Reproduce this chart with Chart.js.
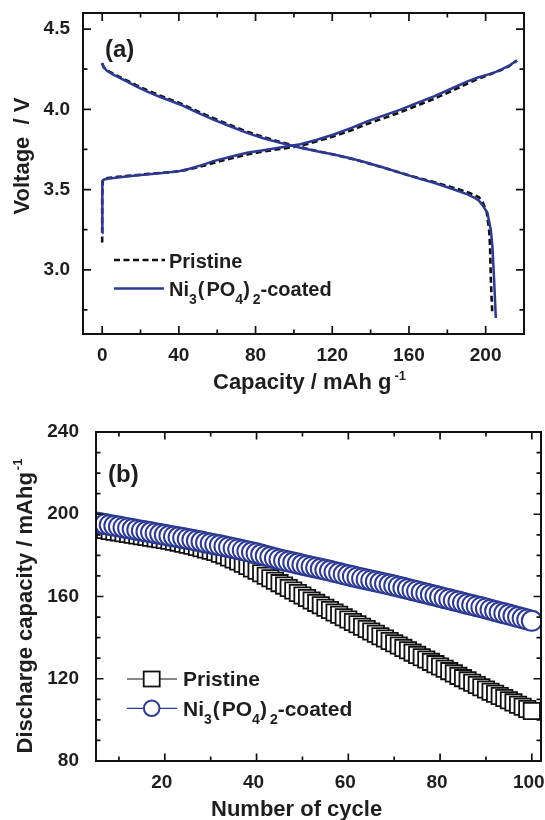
<!DOCTYPE html>
<html><head><meta charset="utf-8">
<script src="https://cdn.jsdelivr.net/npm/chart.js@4/dist/chart.umd.min.js"></script>
<style>
html,body{margin:0;padding:0;background:#fff;}
#wrap{position:relative;width:545px;height:820px;overflow:hidden;background:#fff;}
canvas{position:absolute;left:0;}
#ca{top:0;width:545px;height:400px;}
#cb{top:400px;width:565px;height:420px;}
</style></head><body>
<div id="wrap"><canvas id="ca" width="545" height="400"></canvas><canvas id="cb" width="565" height="420"></canvas></div>
<script>
// ===== Panel (a): charge / discharge voltage profiles (capacity mAh/g, voltage V) =====
const coatedChargeQ   = [0,0,0,0.3,1,3,8,15,23,30,35,40.6,45,49.3,54,58,67,75.5,84,92.9,103.4,112,120.8,130,138.2,147,155.6,164,173,182,190.5,196,201,205,208,212,216.3];
const coatedChargeV   = [3.23,3.35,3.45,3.55,3.563,3.567,3.575,3.585,3.594,3.602,3.607,3.616,3.628,3.643,3.66,3.677,3.704,3.729,3.745,3.762,3.782,3.81,3.843,3.884,3.925,3.962,3.998,4.038,4.081,4.128,4.174,4.198,4.216,4.232,4.247,4.27,4.305];
const coatedDischQ    = [0,0.8,2.5,5.8,12,18,23.2,30,40.6,50,58,67,75.5,84,92.9,103.4,112,120.8,130,138.2,147,155.6,164,173,183.5,190.5,194,196.5,198.5,200.9,202.7,203.5,204.4,205.3];
const coatedDischV    = [4.289,4.262,4.24,4.216,4.178,4.142,4.112,4.078,4.03,3.978,3.936,3.893,3.853,3.82,3.791,3.76,3.739,3.718,3.693,3.667,3.636,3.604,3.573,3.542,3.5,3.47,3.45,3.43,3.4,3.356,3.25,3.148,2.94,2.70];
const pristineChargeQ = [0,0,0,0.3,1,3,8,15,23,30,35,40.6,45,49.3,54,58,67,75.5,84,92.9,103.4,112,120.8,130,138.2,147,155.6,164,173,182,190.5,196,201,205,208,212,216.3];
const pristineChargeV = [3.17,3.3,3.45,3.555,3.568,3.572,3.579,3.587,3.596,3.603,3.607,3.615,3.625,3.637,3.652,3.666,3.693,3.718,3.737,3.753,3.772,3.801,3.832,3.869,3.909,3.945,3.982,4.022,4.065,4.113,4.16,4.19,4.212,4.23,4.245,4.268,4.303];
const pristineDischQ  = [0,0.8,2.5,5.8,12,18,23.2,30,40.6,50,58,67,75.5,84,92.9,103.4,112,120.8,130,138.2,147,155.6,164,173,183.5,190.5,194,196.5,198.5,200.6,201.8,202.3,202.7,203.5];
const pristineDischV  = [4.285,4.263,4.243,4.221,4.184,4.149,4.12,4.086,4.038,3.986,3.945,3.901,3.861,3.827,3.796,3.763,3.74,3.718,3.692,3.666,3.635,3.604,3.575,3.547,3.51,3.484,3.467,3.452,3.42,3.356,3.25,3.148,2.94,2.72];
const xTicksA = [0,40,80,120,160,200];
const xMinorA = [20,60,100,140,180];
const yTicksA = [3.0,3.5,4.0,4.5];
const yMinorA = [2.75,3.25,3.75,4.25];

// ===== Panel (b): discharge capacity vs cycle number =====
const firstCycle = 5, lastCycle = 100;
const cycles = [];
for (let c = firstCycle; c <= lastCycle; c++) cycles.push(c);
const pristineCap = [193.0,192.6,192.3,191.9,191.5,191.2,190.8,190.4,190.0,189.7,
  189.3,188.9,188.6,188.2,187.8,187.5,187.1,186.6,186.2,185.7,
  185.2,184.7,184.1,183.5,182.9,182.3,181.6,180.8,180.0,179.0,
  178.0,177.0,175.9,174.8,173.6,172.5,171.3,170.1,168.9,167.7,
  166.5,165.3,164.1,162.9,161.7,160.5,159.3,158.1,156.9,155.7,
  154.5,153.4,152.2,151.1,149.9,148.8,147.6,146.5,145.3,144.2,
  143.0,141.9,140.7,139.6,138.4,137.3,136.2,135.0,133.9,132.7,
  131.6,130.5,129.4,128.2,127.1,126.0,124.9,123.7,122.6,121.4,
  120.3,119.2,118.1,117.0,115.9,114.8,113.7,112.7,111.6,110.6,
  109.5,108.5,107.4,106.4,105.3,104.3];
const coatedCap = [196.0,195.6,195.2,194.8,194.4,194.0,193.6,193.2,192.8,192.4,
  192.0,191.6,191.2,190.8,190.4,190.0,189.6,189.2,188.8,188.4,
  188.0,187.6,187.1,186.7,186.2,185.8,185.3,184.9,184.4,184.0,
  183.5,183.0,182.5,182.0,181.5,181.0,180.4,179.8,179.2,178.6,
  178.0,177.5,177.0,176.5,176.0,175.5,175.0,174.5,174.0,173.5,
  173.0,172.5,171.9,171.4,170.8,170.3,169.8,169.3,168.8,168.3,
  167.8,167.3,166.8,166.3,165.8,165.3,164.8,164.2,163.7,163.1,
  162.6,162.0,161.5,160.9,160.4,159.8,159.2,158.7,158.1,157.6,
  157.0,156.4,155.9,155.3,154.8,154.2,153.6,153.0,152.4,151.8,
  151.2,150.6,150.0,149.4,148.8,148.2];
const xTicksB = [20,40,60,80,100];
const xMinorB = [10,30,50,70,90];
const yTicksB = [80,120,160,200,240];
const yMinorB = [90,100,110,130,140,150,170,180,190,210,220,230];

// ===== styling =====
const FONT = "'Liberation Sans', Arial, Helvetica, sans-serif";
const INK = '#1e1e1e';
const BLUE = '#2c3a94';

function pts(xs, ys) { return xs.map((x, i) => ({x: x, y: ys[i]})); }
function fixedTicks(vals) { return s => { s.ticks = vals.map(v => ({value: v})); }; }
const tickFont = {family: FONT, size: 19, weight: 'bold'};

function xScale(min, max, vals, h, pad, fmt, shift) {
  return {type: 'linear', position: 'bottom', min: min, max: max,
    afterBuildTicks: fixedTicks(vals),
    afterFit: s => { s.height = h; s.paddingLeft = 0; s.paddingRight = 0; },
    grid: {display: false, drawTicks: false}, border: {display: false},
    ticks: {padding: pad, labelOffset: shift || 0, autoSkip: false, maxRotation: 0, minRotation: 0, color: INK, font: tickFont, callback: fmt}};
}
function yScale(min, max, vals, w, pad, fmt) {
  return {type: 'linear', position: 'left', min: min, max: max,
    afterBuildTicks: fixedTicks(vals),
    afterFit: s => { s.width = w; s.paddingTop = 0; s.paddingBottom = 0; },
    grid: {display: false, drawTicks: false}, border: {display: false},
    ticks: {padding: pad, autoSkip: false, color: INK, font: tickFont, callback: fmt}};
}

function richWidth(ctx, parts) {
  let w = 0;
  for (const p of parts) { ctx.font = 'bold ' + p.s + 'px ' + FONT; w += (p.gap || 0) + ctx.measureText(p.t).width; }
  return w;
}
function drawRich(ctx, parts, x, y, rot, align) {
  ctx.save();
  ctx.translate(x, y);
  if (rot) ctx.rotate(rot);
  let cx = align === 'center' ? -richWidth(ctx, parts) / 2 : 0;
  ctx.fillStyle = INK; ctx.textAlign = 'left'; ctx.textBaseline = 'alphabetic';
  for (const p of parts) {
    cx += p.gap || 0;
    ctx.font = 'bold ' + p.s + 'px ' + FONT;
    ctx.fillText(p.t, cx, p.dy || 0);
    cx += ctx.measureText(p.t).width;
  }
  ctx.restore();
}

const framePlugin = {
  id: 'frame',
  afterDatasetsDraw(chart) {
    const o = chart.options.plugins.frame;
    const ctx = chart.ctx, a = chart.chartArea, xs = chart.scales.x, ys = chart.scales.y;
    ctx.save();
    ctx.strokeStyle = '#111';
    ctx.lineWidth = 1.7;
    const vt = (vals, len) => vals.forEach(v => {
      const p = xs.getPixelForValue(v);
      ctx.beginPath();
      ctx.moveTo(p, a.bottom); ctx.lineTo(p, a.bottom - len);
      ctx.moveTo(p, a.top); ctx.lineTo(p, a.top + len);
      ctx.stroke();
    });
    const ht = (vals, len) => vals.forEach(v => {
      const p = ys.getPixelForValue(v);
      ctx.beginPath();
      ctx.moveTo(a.left, p); ctx.lineTo(a.left + len, p);
      ctx.moveTo(a.right, p); ctx.lineTo(a.right - len, p);
      ctx.stroke();
    });
    vt(o.xMajor.filter(v => v > xs.min && v < xs.max), o.maj);
    vt(o.xMinor, o.min);
    ht(o.yMajor.filter(v => v > ys.min && v < ys.max), o.maj);
    ht(o.yMinor, o.min);
    ctx.lineWidth = 2;
    ctx.strokeRect(a.left, a.top, a.right - a.left, a.bottom - a.top);
    ctx.restore();
  }
};

const textPlugin = {
  id: 'texts',
  afterDraw(chart) {
    const o = chart.options.plugins.texts;
    const ctx = chart.ctx;
    o.items.forEach(it => drawRich(ctx, it.parts, it.x, it.y, it.rot || 0, it.align || 'left'));
    o.keys.forEach(k => {
      ctx.save();
      ctx.strokeStyle = k.color; ctx.lineWidth = k.width;
      ctx.setLineDash(k.dash || []);
      ctx.beginPath(); ctx.moveTo(k.x0, k.y); ctx.lineTo(k.x1, k.y); ctx.stroke();
      ctx.setLineDash([]);
      if (k.marker === 'rect') {
        ctx.fillStyle = '#fff'; ctx.lineWidth = 1.8;
        ctx.fillRect(k.mx - 8, k.y - 7.5, 16, 15);
        ctx.strokeRect(k.mx - 8, k.y - 7.5, 16, 15);
      } else if (k.marker === 'circle') {
        ctx.fillStyle = '#fff'; ctx.lineWidth = 2;
        ctx.beginPath(); ctx.arc(k.mx, k.y, 7.8, 0, Math.PI * 2); ctx.fill(); ctx.stroke();
      }
      ctx.restore();
      drawRich(ctx, k.parts, k.tx, k.base, 0, 'left');
    });
  }
};

const niParts = s => [{t: 'Ni', s: s}, {t: '3', s: 14, dy: 8}, {t: '(', s: s, gap: 1}, {t: 'PO', s: s, gap: 2},
  {t: '4', s: 14, dy: 8}, {t: ')', s: s}, {t: '2', s: 14, dy: 8, gap: 3}, {t: '-coated', s: s}];

// ===== Chart (a) =====
new Chart(document.getElementById('ca'), {
  type: 'scatter',
  data: {datasets: [
    {data: pts(coatedChargeQ, coatedChargeV), showLine: true, borderColor: BLUE, borderWidth: 2.5, pointRadius: 0, tension: 0, order: 0, clip: 0},
    {data: pts(coatedDischQ, coatedDischV), showLine: true, borderColor: BLUE, borderWidth: 2.5, pointRadius: 0, tension: 0, order: 0, clip: 0},
    {data: pts(pristineChargeQ, pristineChargeV), showLine: true, borderColor: '#111', borderWidth: 2.6, borderDash: [6, 3.5], pointRadius: 0, tension: 0, order: 1, clip: 0},
    {data: pts(pristineDischQ, pristineDischV), showLine: true, borderColor: '#111', borderWidth: 2.6, borderDash: [6, 3.5], pointRadius: 0, tension: 0, order: 1, clip: 0}
  ]},
  options: {
    responsive: false, animation: false, devicePixelRatio: 1, events: [],
    layout: {padding: {left: 0, right: 21, top: 13, bottom: 0}},
    scales: {
      x: xScale(-10, 220, xTicksA, 66, 10, v => String(v), 0),
      y: yScale(2.6, 4.6, yTicksA, 83, 13, v => v.toFixed(1))
    },
    plugins: {
      legend: {display: false}, tooltip: {enabled: false},
      frame: {xMajor: xTicksA, xMinor: xMinorA, yMajor: yTicksA, yMinor: yMinorA, maj: 8, min: 4.5},
      texts: {
        items: [
          {parts: [{t: '(a)', s: 24}], x: 105, y: 57},
          {parts: [{t: 'Voltage  / V', s: 22}], x: 29, y: 156, rot: -Math.PI / 2, align: 'center'},
          {parts: [{t: 'Capacity / mAh g', s: 22}, {t: '-1', s: 13, dy: -9, gap: 3}], x: 213, y: 389}
        ],
        keys: [
          {y: 260, x0: 114, x1: 165, color: '#111', width: 2.6, dash: [6, 3.5], tx: 169, base: 268, parts: [{t: 'Pristine', s: 20}]},
          {y: 288.5, x0: 114, x1: 164, color: BLUE, width: 2.5, tx: 169, base: 296, parts: niParts(20)}
        ]
      }
    }
  },
  plugins: [framePlugin, textPlugin]
});

// ===== Chart (b) =====
new Chart(document.getElementById('cb'), {
  type: 'scatter',
  data: {datasets: [
    {data: pts(cycles, coatedCap), showLine: true, borderColor: BLUE, borderWidth: 1, pointStyle: 'circle', pointRadius: 10,
      pointBorderWidth: 2, pointBorderColor: BLUE, pointBackgroundColor: '#fff', tension: 0, order: 0, clip: 0},
    {data: pts(cycles, pristineCap), showLine: true, borderColor: '#111', borderWidth: 1, pointStyle: 'rect', pointRadius: 11.5,
      pointBorderWidth: 1.8, pointBorderColor: '#111', pointBackgroundColor: '#fff', tension: 0, order: 1, clip: 0}
  ]},
  options: {
    responsive: false, animation: false, devicePixelRatio: 1, events: [],
    layout: {padding: {left: 0, right: 24, top: 32, bottom: 0}},
    scales: {
      x: xScale(5, 102, xTicksB, 59, 10, v => String(v), -3),
      y: yScale(80, 240, yTicksB, 96, 17, v => String(v))
    },
    plugins: {
      legend: {display: false}, tooltip: {enabled: false},
      frame: {xMajor: xTicksB, xMinor: xMinorB, yMajor: yTicksB, yMinor: yMinorB, maj: 7.5, min: 4.5},
      texts: {
        items: [
          {parts: [{t: '(b)', s: 24}], x: 108, y: 82},
          {parts: [{t: 'Discharge capacity / mAhg', s: 22}, {t: '-1', s: 13, dy: -10, gap: 2}], x: 32, y: 206, rot: -Math.PI / 2, align: 'center'},
          {parts: [{t: 'Number of cycle', s: 22}], x: 211, y: 416}
        ],
        keys: [
          {y: 279, x0: 127, x1: 177, color: '#111', width: 1.2, marker: 'rect', mx: 151.7, tx: 183, base: 286, parts: [{t: 'Pristine', s: 21}]},
          {y: 308.3, x0: 127, x1: 177, color: BLUE, width: 1.2, marker: 'circle', mx: 151.7, tx: 183, base: 315.5, parts: niParts(21)}
        ]
      }
    }
  },
  plugins: [framePlugin, textPlugin]
});
</script>
</body></html>
